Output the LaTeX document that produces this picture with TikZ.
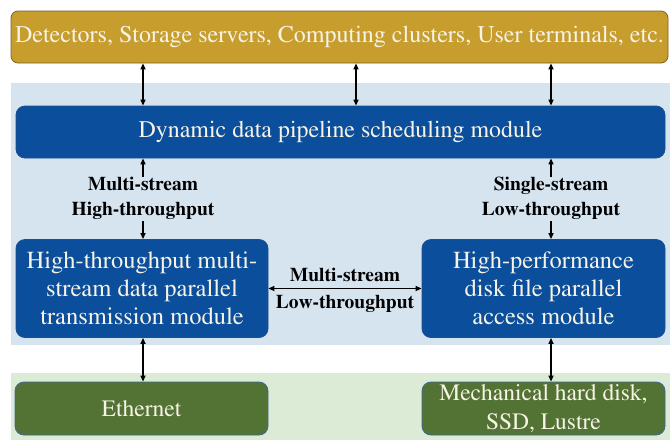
\documentclass[tikz,border=0pt]{standalone}
\usepackage[T1]{fontenc}
\usepackage{mathptmx}
\usetikzlibrary{arrows.meta}

\definecolor{goldfill}{HTML}{C79D2E}
\definecolor{goldline}{HTML}{7E6322}
\definecolor{bluefill}{HTML}{0B4E9C}
\definecolor{blueline}{HTML}{1D4F8C}
\definecolor{greenfill}{HTML}{537334}
\definecolor{greenline}{HTML}{3F6695}
\definecolor{bandblue}{HTML}{D6E4F0}
\definecolor{bandgreen}{HTML}{DCEBD6}
\definecolor{boxtext}{HTML}{F7F3E6}

\tikzset{
  box/.style={rectangle, text=boxtext, align=center, inner sep=0pt, line width=0.8pt},
  goldbox/.style={box, fill=goldfill, draw=goldline, rounded corners=7pt, font=\fontsize{24}{28}\selectfont},
  bluebox/.style={box, fill=bluefill, draw=blueline, rounded corners=9pt},
  greenbox/.style={box, fill=greenfill, draw=greenline, rounded corners=9pt, font=\fontsize{23.5}{29}\selectfont},
  link/.style={line width=1.5pt, {Triangle[length=6pt,width=5pt]}-{Triangle[length=6pt,width=5pt]}},
  tag/.style={font=\bfseries\fontsize{19.5}{25}\selectfont, align=center, text=black, inner sep=1pt},
}

\begin{document}
\begin{tikzpicture}[x=1pt,y=-1pt]
  \useasboundingbox (0,0) rectangle (670,440);
  \fill[white] (0,0) rectangle (670,440);

  % background bands
  \fill[bandblue] (11,83) rectangle (670,345);
  \fill[bandgreen] (11,373) rectangle (670,440);

  % boxes
  \node[goldbox, minimum width=657pt, minimum height=52pt] (dev) at (339.5,37)
    {Detectors, Storage servers, Computing clusters, User terminals, etc.};
  \node[bluebox, minimum width=649pt, minimum height=52pt, font=\fontsize{23.9}{28}\selectfont] (sched) at (340.5,132)
    {Dynamic data pipeline scheduling module};
  \node[bluebox, minimum width=252pt, minimum height=98pt, font=\fontsize{24.5}{28}\selectfont] (net) at (142,288.5)
    {High-throughput multi-\\stream data parallel\\transmission module};
  \node[bluebox, minimum width=243pt, minimum height=98pt, font=\fontsize{24.5}{28}\selectfont] (disk) at (543.5,288.5)
    {High-performance\\disk file parallel\\access module};
  \node[greenbox, minimum width=253pt, minimum height=53pt] (eth) at (141.5,408.5) {Ethernet};
  \node[greenbox, minimum width=243pt, minimum height=53pt] (hw) at (543.5,408.5)
    {Mechanical hard disk,\\SSD, Lustre};

  % anchor columns for the vertical links
  \coordinate (cl) at (143,0);
  \coordinate (cm) at (356,0);
  \coordinate (cr) at (551,0);

  % devices <-> scheduler
  \draw[link] (dev.south -| cl) -- (sched.north -| cl);
  \draw[link] (dev.south -| cm) -- (sched.north -| cm);
  \draw[link] (dev.south -| cr) -- (sched.north -| cr);

  % scheduler <-> modules
  \draw[link] (sched.south -| cl) -- (net.north -| cl)
    node[midway, tag, fill=bandblue] {Multi-stream\\High-throughput};
  \draw[link] (sched.south -| cr) -- (disk.north -| cr)
    node[midway, tag, fill=bandblue] {Single-stream\\Low-throughput};

  % module <-> module
  \draw[link] (net.east) -- (disk.west)
    node[midway, above=5pt, tag] {Multi-stream}
    node[midway, below=5pt, tag] {Low-throughput};

  % modules <-> media
  \draw[link] (net.south -| cl) -- (eth.north -| cl);
  \draw[link] (disk.south -| cr) -- (hw.north -| cr);
\end{tikzpicture}
\end{document}
